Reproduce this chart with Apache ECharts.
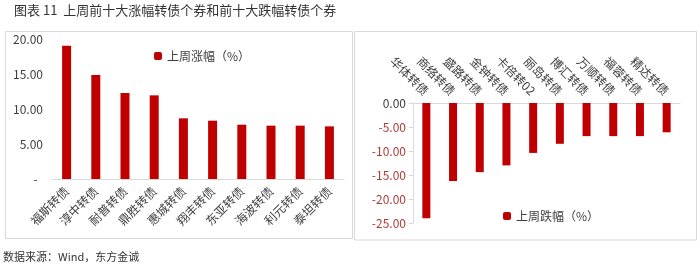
<!DOCTYPE html>
<html><head><meta charset="utf-8">
<script src="https://cdn.jsdelivr.net/npm/echarts@6/dist/echarts.min.js"></script>
<style>html,body{margin:0;padding:0;background:#fff}#c{width:700px;height:268px}</style>
</head><body><div id="c"></div>
<script>
const upNames = ['福斯转债','淳中转债','耐普转债','鼎胜转债','惠城转债','翔丰转债','东亚转债','海波转债','利元转债','泰坦转债'];
const upValues = [19.04, 14.86, 12.29, 11.95, 8.67, 8.33, 7.76, 7.62, 7.62, 7.52];
const downNames = ['华体转债','商络转债','盛路转债','金钟转债','卡倍转02','丽岛转债','博汇转债','万顺转债','福蓉转债','精达转债'];
const downValues = [-24.0, -16.25, -14.4, -13.0, -10.4, -8.5, -6.9, -6.9, -6.9, -6.1];
const upTicks = [0, 5, 10, 15, 20];
const downTicks = [-25, -20, -15, -10, -5, 0];
const upLabel = '上周涨幅（%）';
const downLabel = '上周跌幅（%）';
const titleText = '图表 11  上周前十大涨幅转债个券和前十大跌幅转债个券';
const sourceText = '数据来源：Wind，东方金诚';

const FONT = '"Noto Sans CJK SC", "Noto Sans", sans-serif';
const BAR = '#c00000';
const chart = echarts.init(document.getElementById('c'), null, {renderer: 'canvas'});
chart.setOption({
  animation: false,
  textStyle: {fontFamily: FONT},
  graphic: [
    {type: 'text', left: 14, top: 4, style: {text: titleText, font: '13px ' + FONT, fill: '#333'}},
    {type: 'text', left: 3, top: 251, style: {text: sourceText, font: '11px ' + FONT, fill: '#333'}},
    {type: 'rect', shape: {x: 5.5, y: 31.5, width: 347, height: 207}, style: {fill: 'none', stroke: '#d9d9d9', lineWidth: 1}},
    {type: 'rect', shape: {x: 354.5, y: 31.5, width: 342, height: 208.5}, style: {fill: 'none', stroke: '#d9d9d9', lineWidth: 1}}
  ],
  legend: [
    {data: [upLabel], left: 149, top: 45, itemWidth: 8, itemHeight: 8, itemGap: 4,
     textStyle: {fontSize: 12, color: '#404040', fontFamily: FONT}},
    {data: [downLabel], left: 498, top: 205, itemWidth: 8, itemHeight: 8, itemGap: 4,
     textStyle: {fontSize: 12, color: '#404040', fontFamily: FONT}}
  ],
  grid: [
    {left: 52, top: 39, width: 292, height: 140},
    {left: 413, top: 103, width: 267, height: 120}
  ],
  xAxis: [
    {type: 'category', gridIndex: 0, data: upNames, position: 'bottom',
     axisLine: {lineStyle: {color: '#d9d9d9'}}, axisTick: {show: false},
     axisLabel: {rotate: 45, interval: 0, fontSize: 12, color: '#404040', margin: 10, fontFamily: FONT}},
    {type: 'category', gridIndex: 1, data: downNames, position: 'top',
     axisLine: {onZero: false, lineStyle: {color: '#d9d9d9'}}, axisTick: {show: false},
     axisLabel: {rotate: 45, interval: 0, fontSize: 12, color: '#404040', margin: 10, align: 'right', verticalAlign: 'middle', fontFamily: FONT}}
  ],
  yAxis: [
    {type: 'value', gridIndex: 0, min: upTicks[0], max: upTicks[upTicks.length - 1], interval: 5,
     splitLine: {show: false}, axisLine: {show: false}, axisTick: {show: false},
     axisLabel: {fontSize: 12, color: '#404040', margin: 9, fontFamily: FONT,
       formatter: v => v === 0 ? '-  ' : v.toFixed(2)}},
    {type: 'value', gridIndex: 1, min: downTicks[0], max: downTicks[downTicks.length - 1], interval: 5,
     splitLine: {show: false}, axisLine: {show: true, lineStyle: {color: '#d9d9d9'}},
     axisTick: {show: true, length: 4, lineStyle: {color: '#d9d9d9'}},
     axisLabel: {fontSize: 12, margin: 7, fontFamily: FONT,
       color: v => (Number(v) < 0 ? '#b03a3a' : '#404040'),
       formatter: v => v.toFixed(2)}}
  ],
  series: [
    {name: upLabel, type: 'bar', xAxisIndex: 0, yAxisIndex: 0, data: upValues, barWidth: 9,
     itemStyle: {color: BAR}},
    {name: downLabel, type: 'bar', xAxisIndex: 1, yAxisIndex: 1, data: downValues, barWidth: 8,
     itemStyle: {color: BAR}}
  ]
});
</script></body></html>
